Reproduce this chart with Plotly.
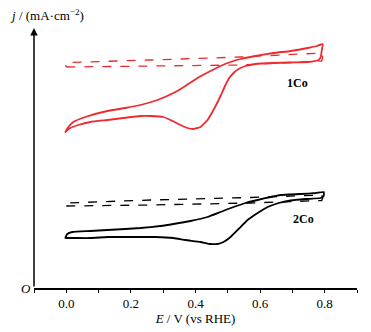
import plotly.graph_objects as go

# Pixel-read values converted to data units: E (V) and j (arbitrary units)
def px_to_x(p):
    return [(v - 66) / 322.5 for v in p]

def py_to_y(p):
    return [288 - v for v in p]

# 1Co solid CV (pixel-read)
co1_px = [65, 68, 73, 85, 107, 125, 140, 157, 173, 185, 197, 210, 220, 230, 240, 255, 273, 290, 307, 316, 322,
          321, 320, 318, 307, 290, 273, 255, 245, 238, 233, 228, 224, 220, 214, 207, 200, 193, 187, 180, 172, 163,
          150, 140, 123, 107, 90, 78, 70, 66, 65]
co1_py = [132, 127, 122, 117, 111, 108, 105, 100, 93, 86, 78, 71, 66, 62, 59, 56, 53, 51, 48, 46, 44,
          51, 57, 60, 62, 62.5, 63, 64, 66, 69, 73, 79, 87, 96, 108, 120, 127, 129, 128, 125, 121, 117,
          116, 116, 118, 120, 122, 125, 128, 131, 132]
# 1Co dashed (blank electrode)
co1d_px = [66, 150, 240, 321, 322, 321, 240, 150, 67, 65, 66]
co1d_py = [67, 66, 65, 61, 57, 53, 57, 60, 62.5, 64.5, 67]

# 2Co solid CV
co2_px = [65, 67, 72, 90, 107, 125, 140, 160, 173, 190, 207, 220, 233, 245, 257, 270, 280, 300, 315, 323,
          323, 320, 305, 290, 278, 267, 257, 247, 238, 230, 223, 217, 210, 200, 185, 173, 155, 140, 120, 107, 90,
          75, 67, 65]
co2_py = [238, 234, 232, 231, 230, 229, 228, 226, 224, 221, 217, 212, 207, 203, 200, 197, 195, 194, 193, 192,
          196, 198, 199, 200.5, 203, 207, 213, 220, 229, 237, 242, 244, 244, 242, 240, 238, 237, 237, 237, 237, 238,
          238, 238, 238]
co2d_px = [66, 150, 250, 321, 322, 321, 250, 150, 67, 65, 66]
co2d_py = [206, 205, 203, 200.5, 198, 195, 197.5, 200, 203, 204.5, 206]

tick_vals = [-0.1, 0.0, 0.1, 0.2, 0.3, 0.4, 0.5, 0.6, 0.7, 0.8, 0.9]
tick_text = ["", "0.0", "", "0.2", "", "0.4", "", "0.6", "", "0.8", ""]

RED = "#ee2a2f"
fig = go.Figure()
fig.add_trace(go.Scatter(x=px_to_x(co1d_px), y=py_to_y(co1d_py), mode="lines",
                         line=dict(color=RED, width=1.3, dash="dash")))
fig.add_trace(go.Scatter(x=px_to_x(co1_px), y=py_to_y(co1_py), mode="lines",
                         line=dict(color=RED, width=1.8, shape="spline", smoothing=0.4)))
fig.add_trace(go.Scatter(x=px_to_x(co2d_px), y=py_to_y(co2d_py), mode="lines",
                         line=dict(color="black", width=1.3, dash="dash")))
fig.add_trace(go.Scatter(x=px_to_x(co2_px), y=py_to_y(co2_py), mode="lines",
                         line=dict(color="black", width=1.8, shape="spline", smoothing=0.4)))

font = "Liberation Serif"
# The page body adds an 8px offset at top/left, so the figure is 8px smaller and margins compensate.
fig.update_layout(
    width=363, height=324, showlegend=False,
    margin=dict(l=26, r=14, t=20, b=44),
    paper_bgcolor="white", plot_bgcolor="white",
    font=dict(family=font, size=13, color="black"),
    xaxis=dict(range=[-0.1, 0.9], tickvals=tick_vals, ticktext=tick_text, automargin=False,
               ticks="outside", ticklen=3, tickwidth=1.2, tickcolor="black",
               showline=True, linecolor="black", linewidth=1.5, showgrid=False, zeroline=False,
               tickfont=dict(family=font, size=13),
               title=dict(text="<i>E</i> / V (vs RHE)", font=dict(family=font, size=13), standoff=2)),
    yaxis=dict(range=[0, 260], showticklabels=False, showgrid=False, zeroline=False, showline=False,
               ticks="", automargin=False),
    annotations=[
        dict(xref="paper", yref="paper", x=0, y=1, ax=0, ay=260, axref="pixel", ayref="pixel",
             showarrow=True, arrowhead=2, arrowsize=1, arrowwidth=1.5, arrowcolor="black", text=""),
        dict(xref="paper", yref="paper", x=0, y=0, xanchor="right", yanchor="middle", xshift=-1,
             text="<i>O</i>", showarrow=False, font=dict(family=font, size=13)),
        dict(xref="paper", yref="paper", x=-0.082, y=1, yanchor="bottom", xanchor="left", yshift=3,
             text="<i>j</i> / (mA·cm<sup>−2</sup>)", showarrow=False, font=dict(family=font, size=13)),
        dict(x=(297 - 66) / 322.5, y=288 - 83, text="<b>1Co</b>", showarrow=False,
             font=dict(family=font, size=12)),
        dict(x=(303 - 66) / 322.5, y=288 - 219, text="<b>2Co</b>", showarrow=False,
             font=dict(family=font, size=12)),
    ],
)
fig.write_html("out.html")
